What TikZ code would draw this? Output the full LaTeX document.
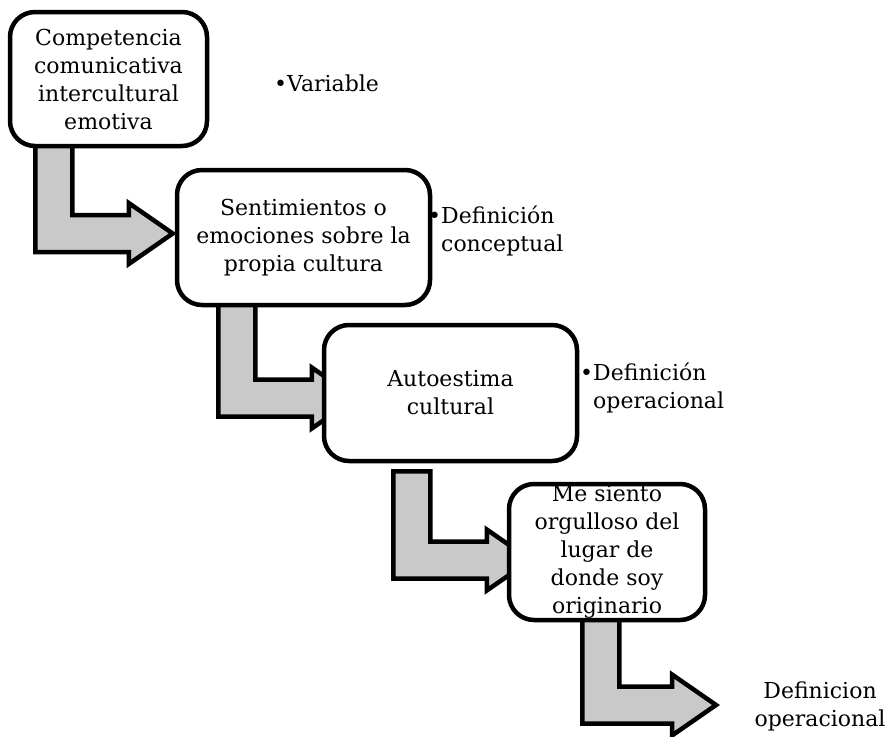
\documentclass[tikz,border=0pt]{standalone}
\usepackage{fontspec}
\setmainfont{DejaVu Serif}
\usepackage{tikz}
\usetikzlibrary{calc,backgrounds}

\definecolor{arrowgray}{RGB}{201,201,201}

% bent block arrow: #1 = top of the shaft, #2 = tip of the head
\newcommand\bendarrow[2]{%
  \path[bend arrow] let \p1=#1, \p2=#2 in
    ({\x1-18.5pt},{\y1}) -- ({\x1-18.5pt},{\y2-18.5pt}) -- ({\x2-44pt},{\y2-18.5pt})
    -- ({\x2-44pt},{\y2-30.5pt}) -- (\p2) -- ({\x2-44pt},{\y2+30.5pt})
    -- ({\x2-44pt},{\y2+18.5pt}) -- ({\x1+18.5pt},{\y2+18.5pt}) -- ({\x1+18.5pt},{\y1}) -- cycle;}

\begin{document}
\begin{tikzpicture}[x=1pt,y=-1pt,
    font=\fontsize{22}{28}\selectfont,
    box node/.style={rectangle,rounded corners=25pt,draw,line width=4.5pt,fill=white,
                     align=center,inner sep=0pt},
    label node/.style={inner sep=0pt},
    bend arrow/.style={draw,line width=4.5pt,fill=arrowgray,miter limit=10}]
  \useasboundingbox (0,0) rectangle (890,736);

  \node[box node, minimum width=197pt, minimum height=134pt] (comp) at (108.5,79)
       {Competencia\\comunicativa\\intercultural\\emotiva};
  \node[box node, minimum width=253pt, minimum height=135pt] (senti) at (303.5,237.5)
       {Sentimientos o\\emociones sobre la\\propia cultura};
  \node[box node, minimum width=253pt, minimum height=136pt] (auto) at (450.5,393)
       {Autoestima\\cultural};
  \node[box node, minimum width=196pt, minimum height=136pt] (orgullo) at (607,552)
       {Me siento\\orgulloso del\\lugar de\\donde soy\\originario};

  \node[label node, anchor=west] (var) at (274,83) {\textbullet Variable};
  \node[label node, anchor=west, align=left] (defcon) at (428,231)
       {\textbullet Definición\\\hphantom{\textbullet}conceptual};
  \node[label node, anchor=west, align=left] (defop) at (580,388)
       {\textbullet Definición\\\hphantom{\textbullet}operacional};
  \node[label node, align=center] (fin) at (820,706) {Definicion\\operacional};

  \coordinate (end) at (716,705);

  \begin{scope}[on background layer]
    \bendarrow{($(comp.south west)+(46,-3)$)}{($(senti.west)+(-2,-4)$)}
    \bendarrow{($(senti.south west)+(62,-3)$)}{($(auto.west)+(34,5)$)}
    \bendarrow{($(auto.south west)+(90,8)$)}{($(orgullo.west)+(24,8)$)}
    \bendarrow{($(orgullo.south west)+(94,-3)$)}{(end)}
  \end{scope}
\end{tikzpicture}
\end{document}
